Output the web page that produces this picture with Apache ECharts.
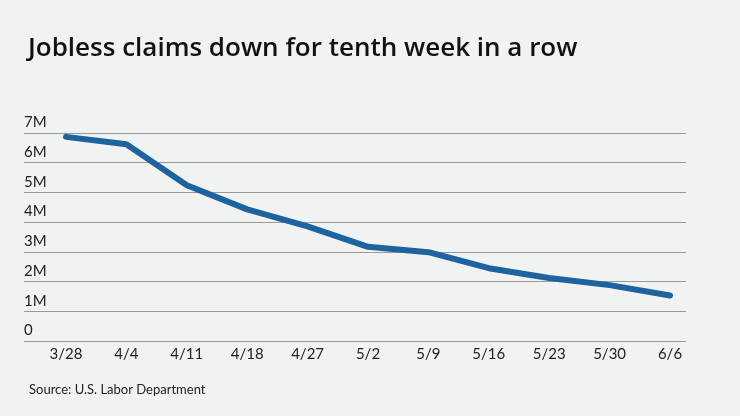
<!DOCTYPE html>
<html><head><meta charset="utf-8">
<script src="https://cdn.jsdelivr.net/npm/echarts@6/dist/echarts.min.js"></script>
<style>html,body{margin:0;padding:0;background:#f1f2f2;}#c{width:740px;height:416px;}</style>
</head><body><div id="c"></div>
<script>
const categories = ['3/28','4/4','4/11','4/18','4/27','5/2','5/9','5/16','5/23','5/30','6/6'];
const claims = [6.87, 6.62, 5.24, 4.43, 3.86, 3.17, 2.99, 2.45, 2.12, 1.88, 1.53];
const yTicks = ['0','1M','2M','3M','4M','5M','6M','7M'];

const chart = echarts.init(document.getElementById('c'));
const font = 'Lato, "Open Sans", sans-serif';
chart.setOption({
  backgroundColor: '#f1f2f2',
  animation: false,
  title: [
    {text: 'Jobless claims down for tenth week in a row', left: 23, top: 31,
     textStyle: {fontFamily: '"Open Sans", sans-serif', fontSize: 26, fontWeight: 600, color: '#111'}},
    {text: 'Source: U.S. Labor Department', left: 24, top: 378,
     textStyle: {fontFamily: font, fontSize: 13, fontWeight: 'normal', color: '#222'}}
  ],
  grid: [
    {left: 24, right: 54, top: 133, bottom: 75},
    {left: 66, right: 70, top: 133, bottom: 75}
  ],
  xAxis: [
    {gridIndex: 0, type: 'category', data: categories, show: false},
    {gridIndex: 1, type: 'category', data: categories, boundaryGap: false,
     axisLine: {show: false}, axisTick: {show: false},
     axisLabel: {margin: 6, fontFamily: font, fontSize: 15, color: '#222'}}
  ],
  yAxis: [
    {gridIndex: 0, type: 'value', min: 0, max: 7, interval: 1,
     axisLine: {show: false}, axisTick: {show: false},
     splitLine: {lineStyle: {color: '#9a9a9a', width: 1}},
     axisLabel: {inside: true, margin: 0, verticalAlign: 'bottom', padding: [0,0,3,0],
       fontFamily: font, fontSize: 15, color: '#222',
       formatter: v => yTicks[v]}},
    {gridIndex: 1, type: 'value', min: 0, max: 7, interval: 1, show: false, splitLine: {show: false}}
  ],
  series: [{
    type: 'line', xAxisIndex: 1, yAxisIndex: 1, data: claims,
    symbol: 'none', smooth: false,
    lineStyle: {color: '#1d63a0', width: 6, cap: 'round', join: 'round'}
  }]
});
</script></body></html>
